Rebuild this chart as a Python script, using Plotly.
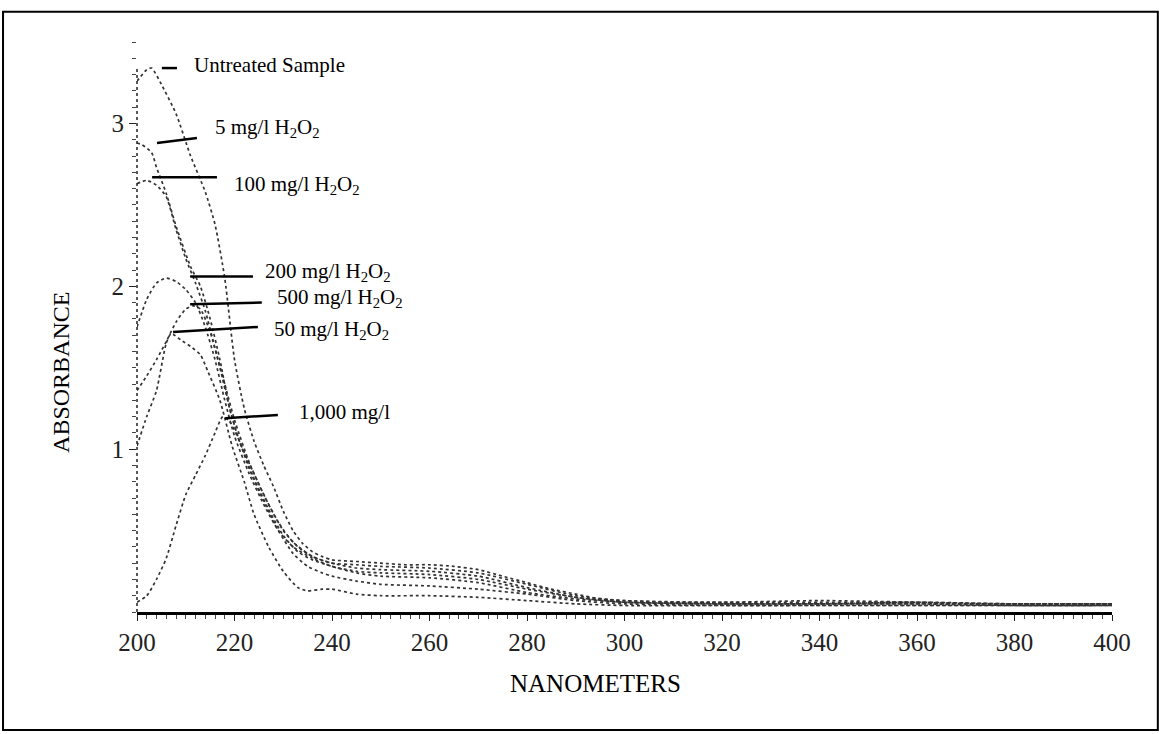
import plotly.graph_objects as go

# ---- data ----
nm_untreated = [200, 202, 203, 205, 208, 211, 214, 216, 218, 220, 222, 224, 226, 228, 230, 232, 234, 236, 238, 240,
                245, 250, 255, 260, 265, 270, 275, 280, 285, 290, 295, 300, 310, 320, 330, 340, 350, 360, 370, 380, 390, 400]
abs_untreated = [3.26, 3.33, 3.34, 3.24, 3.06, 2.80, 2.58, 2.38, 2.05, 1.55, 1.25, 1.05, 0.90, 0.77, 0.62, 0.50, 0.42, 0.37, 0.34, 0.32,
                 0.31, 0.30, 0.29, 0.29, 0.28, 0.26, 0.22, 0.18, 0.14, 0.11, 0.08, 0.07, 0.06, 0.06, 0.06, 0.06, 0.06, 0.06, 0.05, 0.05, 0.05, 0.05]

nm_5 = [200, 201, 203, 204, 206, 208, 211, 213, 215, 217, 219, 221, 224, 227, 230, 233, 236, 240,
        245, 250, 260, 270, 280, 290, 300, 320, 340, 360, 380, 400]
abs_5 = [2.88, 2.87, 2.82, 2.73, 2.57, 2.37, 2.12, 2.00, 1.80, 1.55, 1.25, 1.05, 0.85, 0.66, 0.50, 0.40, 0.34, 0.30,
         0.29, 0.28, 0.27, 0.24, 0.17, 0.10, 0.07, 0.06, 0.07, 0.06, 0.05, 0.05]

nm_100 = [200, 202, 204, 206, 208, 210, 212, 214, 216, 218, 220, 223, 226, 229, 232, 236, 240,
          245, 250, 260, 270, 280, 290, 300, 320, 340, 360, 380, 400]
abs_100 = [2.63, 2.65, 2.62, 2.55, 2.35, 2.17, 2.02, 1.85, 1.62, 1.40, 1.18, 0.92, 0.72, 0.55, 0.43, 0.34, 0.30,
           0.27, 0.26, 0.25, 0.22, 0.15, 0.09, 0.06, 0.05, 0.05, 0.05, 0.04, 0.04]

nm_200 = [200, 202, 204, 206, 208, 210, 212, 214, 216, 218, 220, 223, 226, 229, 232, 236, 240,
          245, 250, 260, 270, 280, 290, 300, 320, 340, 360, 380, 400]
abs_200 = [1.75, 1.92, 2.02, 2.05, 2.03, 1.98, 1.90, 1.75, 1.55, 1.30, 1.08, 0.85, 0.66, 0.50, 0.40, 0.33, 0.28,
           0.25, 0.24, 0.23, 0.20, 0.14, 0.09, 0.06, 0.05, 0.05, 0.05, 0.05, 0.05]

nm_500 = [200, 202, 204, 206, 208, 210, 211.5, 213, 215, 217, 219, 221, 224, 227, 230, 233, 236, 240,
          245, 250, 260, 270, 280, 290, 300, 320, 340, 360, 380, 400]
abs_500 = [1.36, 1.45, 1.55, 1.66, 1.78, 1.86, 1.88, 1.86, 1.72, 1.50, 1.25, 1.05, 0.82, 0.63, 0.47, 0.37, 0.32, 0.28,
           0.24, 0.22, 0.21, 0.18, 0.12, 0.08, 0.06, 0.05, 0.05, 0.06, 0.05, 0.05]

nm_50 = [200, 202, 204, 206, 207, 209, 211, 213, 214.5, 217, 219.5, 222, 224, 227, 230, 233, 235, 238, 240,
         245, 250, 260, 270, 280, 290, 300, 320, 340, 360, 380, 400]
abs_50 = [1.02, 1.20, 1.36, 1.65, 1.71, 1.67, 1.63, 1.58, 1.48, 1.30, 1.02, 0.80, 0.60, 0.40, 0.25, 0.15, 0.13, 0.14, 0.14,
          0.11, 0.10, 0.10, 0.09, 0.07, 0.05, 0.04, 0.04, 0.04, 0.04, 0.04, 0.04]

nm_1000 = [200, 202, 204, 206, 208, 210, 212, 214, 216, 217.6, 219, 221, 223, 226, 229, 232, 235, 238, 240,
           245, 250, 260, 270, 280, 290, 300, 320, 340, 360, 380, 400]
abs_1000 = [0.06, 0.10, 0.20, 0.33, 0.53, 0.72, 0.84, 0.96, 1.10, 1.20, 1.17, 1.05, 0.88, 0.68, 0.50, 0.36, 0.28, 0.24, 0.22,
            0.19, 0.17, 0.16, 0.14, 0.11, 0.07, 0.05, 0.04, 0.04, 0.04, 0.04, 0.04]

series = [
    ("Untreated Sample", nm_untreated, abs_untreated),
    ("5 mg/l H<sub>2</sub>O<sub>2</sub>", nm_5, abs_5),
    ("100 mg/l H<sub>2</sub>O<sub>2</sub>", nm_100, abs_100),
    ("200 mg/l H<sub>2</sub>O<sub>2</sub>", nm_200, abs_200),
    ("500 mg/l H<sub>2</sub>O<sub>2</sub>", nm_500, abs_500),
    ("50 mg/l H<sub>2</sub>O<sub>2</sub>", nm_50, abs_50),
    ("1,000 mg/l", nm_1000, abs_1000),
]

x_ticks = [200, 220, 240, 260, 280, 300, 320, 340, 360, 380, 400]
y_ticks = [1, 2, 3]

# ---- label layout (leader line start/end and text anchor, in data units) ----
label_layout = [
    ((205.1, 3.34), (208.2, 3.34), (211.3, 3.36)),
    ((204.1, 2.88), (212.3, 2.91), (215.6, 2.97)),
    ((203.1, 2.67), (216.4, 2.67), (219.5, 2.62)),
    ((210.9, 2.06), (223.8, 2.06), (225.8, 2.09)),
    ((210.9, 1.89), (225.6, 1.90), (228.3, 1.93)),
    ((207.4, 1.72), (224.8, 1.75), (227.7, 1.73)),
    ((218.1, 1.19), (228.9, 1.21), (232.8, 1.23)),
]

fig = go.Figure()
for name, xs, ys in series:
    fig.add_trace(go.Scatter(x=xs, y=ys, mode="lines", name=name, showlegend=False,
                             line=dict(color="#333333", width=1.7, dash="dot", shape="spline", smoothing=0.6)))

serif = "Liberation Serif, Times New Roman, serif"
annotations = []
shapes = []
for (name, _, _), (p0, p1, pt) in zip(series, label_layout):
    shapes.append(dict(type="line", xref="x", yref="y", x0=p0[0], y0=p0[1], x1=p1[0], y1=p1[1],
                       line=dict(color="black", width=2.5)))
    annotations.append(dict(x=pt[0], y=pt[1], xref="x", yref="y", text=name, showarrow=False,
                            xanchor="left", yanchor="middle", font=dict(family=serif, size=21, color="black")))

annotations.append(dict(x=-0.094, y=0.42, xref="paper", yref="paper", text="ABSORBANCE", textangle=-90,
                        showarrow=False, font=dict(family=serif, size=24, color="black")))
annotations.append(dict(x=0.47, y=-0.152, xref="paper", yref="paper", text="NANOMETERS",
                        showarrow=False, font=dict(family=serif, size=25, color="black")))

# dotted y-axis line
shapes.append(dict(type="line", xref="paper", yref="y", x0=0, x1=0, y0=0, y1=3.35,
                   line=dict(color="#222", width=1.5, dash="dot")))
# outer frame
shapes.append(dict(type="rect", xref="paper", yref="paper", x0=-0.1374, x1=1.047, y0=-0.207, y1=1.053,
                   line=dict(color="black", width=2)))

tick_font = dict(family="Liberation Serif, Times New Roman, serif", size=25, color="#222")

fig.update_layout(
    width=1162, height=734,
    margin=dict(l=137, r=50, t=42, b=122),
    paper_bgcolor="white", plot_bgcolor="white",
    xaxis=dict(range=[200, 400], tickvals=x_ticks, ticktext=[str(v) for v in x_ticks],
               showgrid=False, zeroline=False, showline=True, linecolor="black", linewidth=3,
               ticks="outside", ticklen=6, tickcolor="#222", tickfont=tick_font,
               minor=dict(dtick=2, ticks="outside", ticklen=4, tickcolor="#444", showgrid=False)),
    yaxis=dict(range=[0, 3.5], tickvals=y_ticks, ticktext=[str(v) for v in y_ticks],
               showgrid=False, zeroline=False, showline=False,
               ticks="outside", ticklen=7, tickcolor="#222", tickfont=tick_font,
               minor=dict(dtick=0.1, ticks="outside", ticklen=4, tickcolor="#444", showgrid=False)),
    shapes=shapes,
    annotations=annotations,
)

fig.write_html("out.html")
